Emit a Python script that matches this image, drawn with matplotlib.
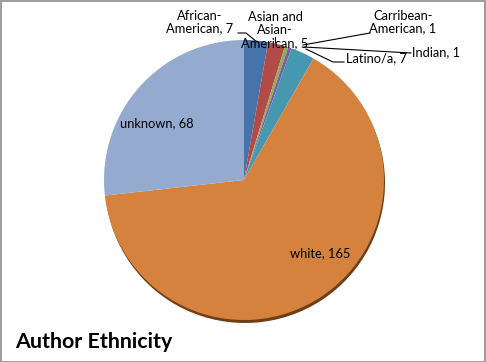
import matplotlib
matplotlib.use("Agg")
import matplotlib.pyplot as plt
from matplotlib.patches import Wedge

categories = ["African-American", "Asian and Asian-American", "Carribean-American",
              "Indian", "Latino/a", "white", "unknown"]
values = [7, 5, 1, 1, 7, 165, 68]
label_texts = ["African-\nAmerican, 7", "Asian and\nAsian-\nAmerican, 5",
               "Carribean-\nAmerican, 1", "Indian, 1", "Latino/a, 7",
               "white, 165", "unknown, 68"]
colors = ["#4673AA", "#B24A47", "#8EAF58", "#7A5E9E", "#4698B0", "#D5823F", "#94AACF"]
title = "Author Ethnicity"

W, H = 486, 362
fig = plt.figure(figsize=(W / 100, H / 100), dpi=100)
fig.patch.set_facecolor("white")
ax = fig.add_axes([0, 0, 1, 1])

cx, cy, r = 244, H - 180, 140
total = sum(values)

# shadow (3D rim) beneath the large slice
start = 0
for v, c in zip(values, colors):
    if v == max(values):
        t2 = 90 - start / total * 360
        t1 = 90 - (start + v) / total * 360
        ax.add_patch(Wedge((cx + 1, cy - 3), r, t1, t2, facecolor="#6E3F17",
                           edgecolor="none", zorder=0))
    start += v

ax.pie(values, colors=colors, startangle=90, counterclock=False,
       center=(cx, cy), radius=r, frame=True,
       wedgeprops=dict(linewidth=0, edgecolor="none", zorder=1))

ax.set_xlim(0, W)
ax.set_ylim(0, H)
ax.set_aspect("equal")
ax.axis("off")

font = ["Lato", "DejaVu Sans"]
fs = 9.3
# label layout: (x, y) centre in pixel coords (top-left origin)
label_pos = [(200, 22), (275, 30), (403, 22), (436, 52), (376, 58), (320, 253), (157, 123)]
for txt, (x, y) in zip(label_texts, label_pos):
    ax.text(x, H - y, txt, ha="center", va="center", fontsize=fs, family=font,
            color="black", linespacing=1.1, zorder=5)

leaders = [
    [(238, 33), (246, 33), (257, 42)],
    [(275, 37), (275, 42)],
    [(370, 33), (303, 45)],
    [(411, 53), (304, 47)],
    [(344, 62), (333, 62), (306, 49)],
]
for pts in leaders:
    xs = [p[0] for p in pts]
    ys = [H - p[1] for p in pts]
    ax.plot(xs, ys, color="black", linewidth=0.8, zorder=4)

fig.text(15 / W, (H - 348) / H, title, ha="left", va="baseline", fontsize=15.4,
         fontweight="bold", family=font)

# outer border
fig.patches.append(plt.Rectangle((0.5 / W, 0.5 / H), 1 - 1.5 / W, 1 - 1.5 / H,
                                 transform=fig.transFigure, fill=False,
                                 edgecolor="#8C8C8C", linewidth=1.2))

fig.savefig("out.png", dpi=100)
